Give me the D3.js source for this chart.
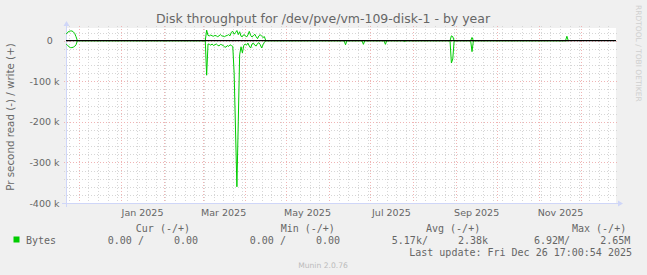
<!DOCTYPE html>
<html>
<head>
<meta charset="utf-8">
<script src="https://cdn.jsdelivr.net/npm/d3@7"></script>
<style>
  body { margin: 0; background: #f0f0f0; }
  svg { display: block; }
  text { font-family: "DejaVu Sans", sans-serif; fill: #666; }
  .mono { font-family: "DejaVu Sans Mono", monospace; white-space: pre; font-size: 10px; }
</style>
</head>
<body>
<script>
const title = "Disk throughput for /dev/pve/vm-109-disk-1 - by year";
const yLabel = "Pr second read (-) / write (+)";
const lastUpdate = new Date(2025, 11, 26, 17, 0, 54);

// daily averages in k bytes/s, one value per day from each burst's start date
const burstStart = ["2024-11-21", "2025-03-03", "2025-06-12", "2025-06-25", "2025-07-11",
  "2025-07-25", "2025-08-28", "2025-09-12", "2025-11-20"];
const burstWrite = [
  [14, 17, 21, 23, 24, 24, 22, 18, 10, 0],
  [0, 26, 13, 12, 14, 12, 11, 13, 12, 10, 12, 15, 12, 11, 10, 12, 13, 15, 12,
    21, 23, 16, 20, 25, 15, 22, 11, 10, 15, 13, 9, 14, 23, 13, 9, 12, 16, 10, 5, 12, 15, 11, 8, 10, 0],
  [0, 0, 0],
  [0, 0, 0],
  [0, 0, 0],
  [0, 0, 0],
  [0, 12, 10, 0],
  [0, 8, 0],
  [0, 11, 0]
];
const burstRead = [
  [7, 9, 12, 15, 17, 17, 16, 14, 10, 0],
  [0, 85, 8, 9, 11, 8, 12, 10, 8, 11, 13, 9, 10, 12, 15, 16, 12, 14, 10,
    12, 14, 80, 220, 360, 200, 35, 15, 30, 12, 8, 11, 6, 13, 18, 8, 6, 11, 13, 7, 5, 10, 18, 10, 4, 0],
  [0, 10, 0],
  [0, 9, 0],
  [0, 9, 0],
  [0, 2, 0],
  [0, 55, 45, 0],
  [0, 27, 0],
  [0, 0, 0]
];

const yTicks = [0, -100000, -200000, -300000, -400000];
const legendHeads = ["Cur (-/+)", "Min (-/+)", "Avg (-/+)", "Max (-/+)"];
const legendVals = ["0.00 /     0.00", "0.00 /     0.00", "5.17k/     2.38k", "6.92M/     2.65M"];

const W = 647, H = 275;
const x0 = 66, x1 = 616, yTop = 28, yBot = 203;
const green = "#00cc00";
const gridCol = "#d6d6d6", mgridCol = "#f0b4b4";

const parse = d3.timeParse("%Y-%m-%d");
const points = [];
burstStart.forEach((s, b) => {
  const d0 = parse(s);
  burstWrite[b].forEach((w, i) => {
    points.push({ date: d3.timeDay.offset(d0, i), write: w * 1000, read: -burstRead[b][i] * 1000 });
  });
});

const svg = d3.select("body").append("svg").attr("width", W).attr("height", H);

svg.append("rect").attr("width", W).attr("height", H).attr("fill", "#f0f0f0");
svg.append("rect").attr("x", x0).attr("y", yTop).attr("width", x1 - x0).attr("height", yBot - yTop).attr("fill", "#fff");

const start = d3.timeDay.offset(lastUpdate, -400);
const x = d3.scaleTime().domain([start, lastUpdate]).range([x0, x1]);
const y = d3.scaleLinear().domain([-400000, 31300]).range([yBot, yTop]);

const crisp = (v) => Math.round(v) + 0.5;

// vertical grid: weeks minor, months major
const grid = svg.append("g");
grid.selectAll(".vmin")
  .data(d3.timeSunday.range(start, lastUpdate))
  .enter().append("line")
  .attr("x1", (d) => crisp(x(d))).attr("x2", (d) => crisp(x(d)))
  .attr("y1", yTop - 2).attr("y2", yBot + 2)
  .attr("stroke", gridCol).attr("stroke-dasharray", "1,2");
grid.selectAll(".vmaj")
  .data(d3.timeMonth.range(start, lastUpdate))
  .enter().append("line")
  .attr("x1", (d) => crisp(x(d))).attr("x2", (d) => crisp(x(d)))
  .attr("y1", yTop - 2).attr("y2", yBot + 2)
  .attr("stroke", mgridCol).attr("stroke-dasharray", "1,2");

// horizontal grid: 20k minor, 100k major
const minorY = d3.range(-400000, 31300, 20000).filter((v) => v % 100000 !== 0);
grid.selectAll(".hmin")
  .data(minorY)
  .enter().append("line")
  .attr("x1", x0 - 2).attr("x2", x1 + 2)
  .attr("y1", (d) => crisp(y(d))).attr("y2", (d) => crisp(y(d)))
  .attr("stroke", gridCol).attr("stroke-dasharray", "1,2");
grid.selectAll(".hmaj")
  .data(yTicks)
  .enter().append("line")
  .attr("x1", x0 - 2).attr("x2", x1 + 2)
  .attr("y1", (d) => crisp(y(d))).attr("y2", (d) => crisp(y(d)))
  .attr("stroke", mgridCol).attr("stroke-dasharray", "1,2");

// axes
const yAxis = d3.axisLeft(y).tickValues(yTicks).tickSize(0).tickPadding(6.5)
  .tickFormat((d) => (d === 0 ? "0" : d / 1000 + " k"));
const gy = svg.append("g").attr("transform", `translate(${x0},0)`).call(yAxis);
gy.select(".domain").remove();
gy.selectAll("text").attr("font-size", "9.5px").attr("font-family", "DejaVu Sans").attr("fill", "#666")
  .attr("dx", (d) => (d === 0 ? -6.6 : 0));

const labelMonths = d3.timeMonth.every(2).range(d3.timeMonth.ceil(start), lastUpdate);
const xAxis = d3.axisBottom(x)
  .tickValues(labelMonths.map((d) => d3.timeDay.offset(d, 15)))
  .tickSize(0).tickPadding(6)
  .tickFormat(d3.timeFormat("%b %Y"));
const gx = svg.append("g").attr("transform", `translate(0,${yBot})`).call(xAxis);
gx.select(".domain").remove();
gx.selectAll("text").attr("font-size", "9.5px").attr("font-family", "DejaVu Sans").attr("fill", "#666");

const axisCol = "#cfd6f8";
svg.append("line").attr("x1", x0 - 4).attr("x2", x1 + 4).attr("y1", yBot + 0.5).attr("y2", yBot + 0.5)
  .attr("stroke", axisCol);
svg.append("line").attr("x1", x0 + 0.5).attr("x2", x0 + 0.5).attr("y1", yBot + 4).attr("y2", yTop - 4)
  .attr("stroke", axisCol);
svg.append("path").attr("d", `M${x1 + 2},${yBot - 2.5}L${x1 + 2},${yBot + 3.5}L${x1 + 7},${yBot + 0.5}Z`)
  .attr("fill", axisCol);
svg.append("path").attr("d", `M${x0 - 2.5},${yTop - 2}L${x0 + 3.5},${yTop - 2}L${x0 + 0.5},${yTop - 7}Z`)
  .attr("fill", axisCol);

// data
svg.append("clipPath").attr("id", "plot").append("rect")
  .attr("x", x0).attr("y", yTop).attr("width", x1 - x0).attr("height", yBot - yTop);
const plot = svg.append("g").attr("clip-path", "url(#plot)");

const lineW = d3.line().x((d) => x(d.date)).y((d) => y(d.write));
const lineR = d3.line().x((d) => x(d.date)).y((d) => y(d.read));
plot.append("path").datum(points).attr("d", lineR).attr("fill", "none").attr("stroke", green).attr("stroke-width", 1);
plot.append("path").datum(points).attr("d", lineW).attr("fill", "none").attr("stroke", green).attr("stroke-width", 1);

// zero rule
svg.append("line").attr("x1", x0).attr("x2", x1).attr("y1", y(0)).attr("y2", y(0))
  .attr("stroke", "#000").attr("stroke-width", 1.2);

// titles
svg.append("text").attr("x", 323).attr("y", 22.5).attr("text-anchor", "middle")
  .attr("font-size", "12.5px").text(title);
svg.append("text").attr("transform", "translate(13.5,117) rotate(-90)").attr("text-anchor", "middle")
  .attr("font-size", "10.3px").text(yLabel);
svg.append("text").attr("transform", "translate(635.5,5) rotate(90)")
  .attr("font-size", "7.5px").style("fill", "#cfcfcf").text("RRDTOOL / TOBI OETIKER");

// legend
const headX = [135.8, 280.7, 426, 572];
const valX = [107.8, 249.8, 391.8, 534];
svg.selectAll(".lh").data(legendHeads).enter().append("text").attr("class", "mono")
  .attr("x", (d, i) => headX[i]).attr("y", 231.5).text((d) => d);
svg.append("rect").attr("x", 13.5).attr("y", 236.5).attr("width", 6).attr("height", 6).attr("fill", green);
svg.append("text").attr("class", "mono").attr("x", 26).attr("y", 243.5).text("Bytes");
svg.selectAll(".lv").data(legendVals).enter().append("text").attr("class", "mono")
  .attr("x", (d, i) => valX[i]).attr("y", 243.5).text((d) => d);
svg.append("text").attr("class", "mono").attr("x", 632).attr("y", 255.5).attr("text-anchor", "end")
  .text("Last update: " + d3.timeFormat("%a %b %d %H:%M:%S %Y")(lastUpdate));
svg.append("text").attr("x", 323).attr("y", 268).attr("text-anchor", "middle")
  .attr("font-size", "7.6px").style("fill", "#bbb").text("Munin 2.0.76");
</script>
</body>
</html>
